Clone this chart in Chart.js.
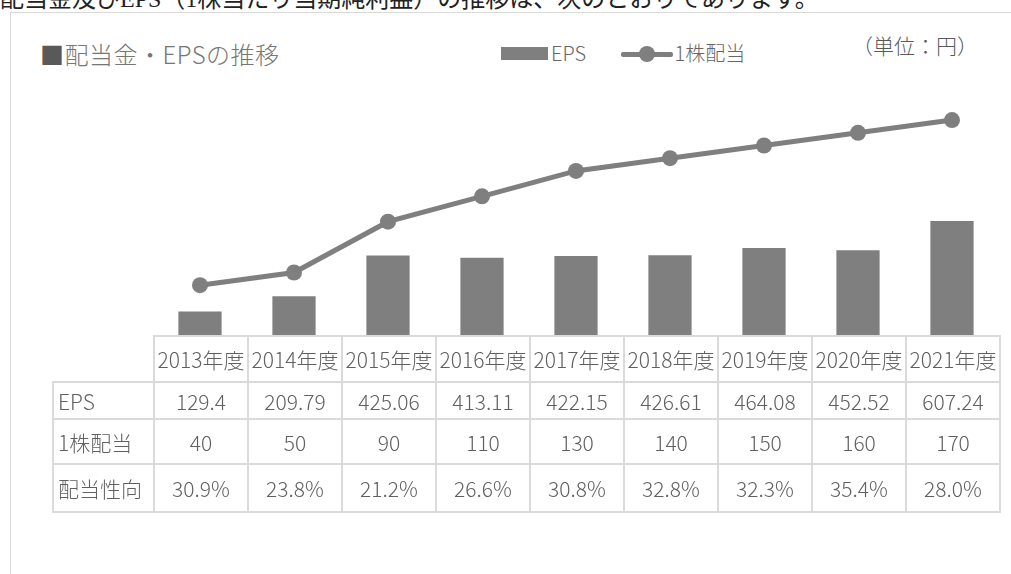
<!DOCTYPE html>
<html><head><meta charset="utf-8">
<script src="https://cdn.jsdelivr.net/npm/chart.js@4"></script>
<style>
html,body{margin:0;padding:0;background:#fff;overflow:hidden;}
body{width:1011px;height:574px;position:relative;font-family:"Noto Sans CJK JP","Noto Sans",sans-serif;color:#595959;}
#lead{position:absolute;left:0;top:-13px;font-size:24px;line-height:24px;white-space:nowrap;color:#222;font-family:"Liberation Serif","Noto Sans CJK JP",serif;}
#frame{position:absolute;left:10px;top:12px;width:1100px;height:700px;border:1px solid #d9d9d9;box-sizing:border-box;}
#title{position:absolute;left:40px;top:39px;font-size:24px;line-height:30px;color:#767676;white-space:nowrap;font-weight:300;letter-spacing:0.5px;}
#title .sq{color:#595959;}
#legend{position:absolute;left:501px;top:40px;height:26px;font-size:20px;line-height:26px;white-space:nowrap;color:#666;font-weight:300;}
#legend .item{display:inline-block;vertical-align:top;}
#legend .box{display:inline-block;width:47px;height:13px;background:#7f7f7f;vertical-align:middle;margin-right:3px;position:relative;top:-2px;}
#legend .ln{display:inline-block;width:52px;height:16px;vertical-align:middle;position:relative;top:-2px;margin-right:2px;}
#legend .ln i{position:absolute;left:0;right:0;top:6px;height:5px;background:#7f7f7f;border-radius:2px;}
#legend .ln b{position:absolute;left:18px;top:0;width:16px;height:16px;border-radius:50%;background:#7f7f7f;}
#unit{position:absolute;left:852px;top:32px;font-size:21px;line-height:26px;white-space:nowrap;color:#595959;font-weight:300;}
#chart{position:absolute;left:0;top:0;}
#tbl{position:absolute;left:52px;top:335px;border-collapse:collapse;table-layout:fixed;font-size:21px;color:#606060;font-weight:300;}
#tbl td{border:2px solid #dadada;padding:0;text-align:center;vertical-align:middle;white-space:nowrap;overflow:visible;}
#tbl td.lab{text-align:left;padding-left:4px;}
#tbl td.blank{border-top:none;border-left:none;}
</style></head>
<body>
<div id="lead">配当金及びEPS（1株当たり当期純利益）の推移は、次のとおりであります。</div>
<div id="frame"></div>
<div id="title"><span class="sq">■</span>配当金・EPSの推移</div>
<div id="legend">
  <span class="item"><span class="box"></span><span id="lg0"></span></span>
  <span class="item" style="margin-left:30px"><span class="ln"><i></i><b></b></span><span id="lg1"></span></span>
</div>
<div id="unit">（単位：円）</div>
<canvas id="chart" width="1011" height="574"></canvas>
<table id="tbl"></table>
<script>
const years = ['2013年度','2014年度','2015年度','2016年度','2017年度','2018年度','2019年度','2020年度','2021年度'];
const eps = [129.4, 209.79, 425.06, 413.11, 422.15, 426.61, 464.08, 452.52, 607.24];
const dividend = [40, 50, 90, 110, 130, 140, 150, 160, 170];
const payout = [30.9, 23.8, 21.2, 26.6, 30.8, 32.8, 32.3, 35.4, 28.0];
const seriesNames = ['EPS', '1株配当', '配当性向'];

document.getElementById('lg0').textContent = seriesNames[0];
document.getElementById('lg1').textContent = seriesNames[1];

// data table
(function(){
  const t = document.getElementById('tbl');
  const cg = document.createElement('colgroup');
  const c0 = document.createElement('col'); c0.style.width = '101px'; cg.appendChild(c0);
  years.forEach(()=>{const c=document.createElement('col'); c.style.width='94px'; cg.appendChild(c);});
  t.appendChild(cg);
  const heights = [46, 37, 45, 48];
  const rows = [
    ['', years],
    [seriesNames[0], eps.map(v=>String(v))],
    [seriesNames[1], dividend.map(v=>String(v))],
    [seriesNames[2], payout.map(v=>v.toFixed(1)+'%')]
  ];
  rows.forEach((r,i)=>{
    const tr = document.createElement('tr');
    tr.style.height = heights[i]+'px';
    const th = document.createElement('td');
    th.textContent = r[0];
    th.className = i===0 ? 'blank' : 'lab';
    tr.appendChild(th);
    r[1].forEach(s=>{const td=document.createElement('td'); td.textContent=s; tr.appendChild(td);});
    t.appendChild(tr);
  });
})();

new Chart(document.getElementById('chart'), {
  type: 'bar',
  data: {
    labels: years,
    datasets: [
      {type:'line', label: seriesNames[1], data: dividend, yAxisID:'y2',
       borderColor:'#7f7f7f', backgroundColor:'#7f7f7f', borderWidth:5,
       pointRadius:8, pointBackgroundColor:'#7f7f7f', pointBorderWidth:0,
       tension:0, order:0},
      {type:'bar', label: seriesNames[0], data: eps, yAxisID:'y',
       backgroundColor:'#7f7f7f', barPercentage:0.46, categoryPercentage:1, order:1}
    ]
  },
  options: {
    responsive:false, animation:false, devicePixelRatio:1,
    layout:{padding:{left:153, right:12, top:82, bottom:238}},
    plugins:{legend:{display:false}, tooltip:{enabled:false}},
    scales:{
      x:{display:false, offset:true},
      y:{display:false, min:0, max:1340},
      y2:{display:false, min:0, max:200, position:'right'}
    }
  }
});
</script>
</body></html>
